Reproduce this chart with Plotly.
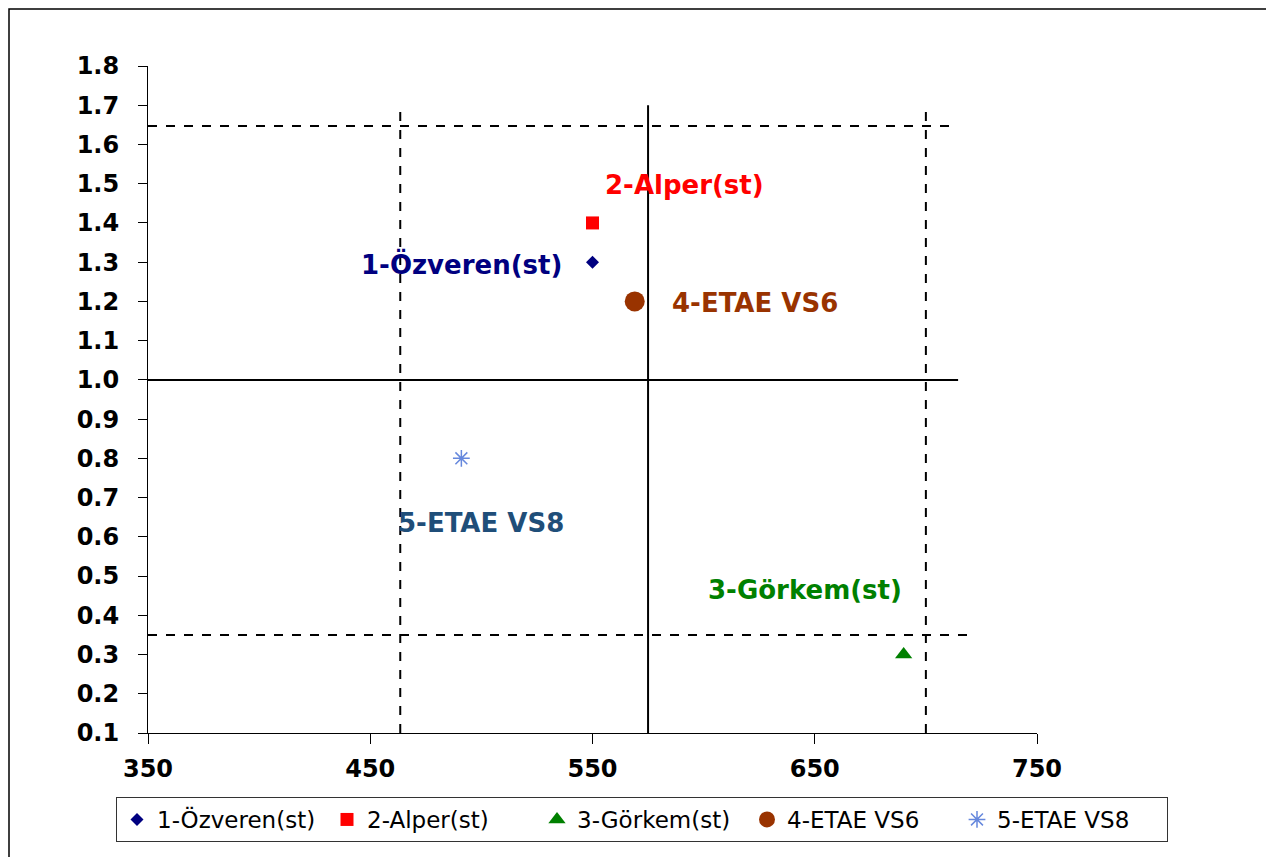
import plotly.graph_objects as go

# ---- data ----
names = ["1-Özveren(st)", "2-Alper(st)", "3-Görkem(st)", "4-ETAE VS6", "5-ETAE VS8"]
x_vals = [550, 550, 690, 569, 491]
y_vals = [1.3, 1.4, 0.3, 1.2, 0.8]

x_ticks = [350, 450, 550, 650, 750]
y_ticks = [0.1, 0.2, 0.3, 0.4, 0.5, 0.6, 0.7, 0.8, 0.9, 1.0, 1.1, 1.2, 1.3, 1.4, 1.5, 1.6, 1.7, 1.8]

# reference lines
vline_x = [463.5, 575, 700]
vline_top = [1.695, 1.70, 1.70]
hline_y = [1.647, 1.0, 0.35]
hline_end = [714, 714.5, 721]
vline_dash = ["dash", "solid", "dash"]
hline_dash = ["dash", "solid", "dash"]

# ---- styles ----
symbols = ["diamond", "square", "triangle-up", "circle", "asterisk-open"]
sizes = [10, 13, 15, 20, 14]
colors = ["#000080", "#FF0000", "#008000", "#993300", "#6688DD"]
label_colors = ["#000080", "#FF0000", "#008000", "#993300", "#1F4E79"]
label_shift = [(-131, -2), (92, 38), (-99, 65), (120, -2), (20, -65)]

# figure geometry (page has an 8px body margin)
W, H = 1266, 849
ML, MT, MR, MB = 140, 58, 237, 124
PW, PH = W - ML - MR, H - MT - MB

fig = go.Figure()

# reference lines
for xv, top, d in zip(vline_x, vline_top, vline_dash):
    fig.add_trace(go.Scatter(x=[xv, xv], y=[0.1, top], mode="lines",
                             line=dict(color="black", width=2, dash=d),
                             showlegend=False, hoverinfo="skip"))
for yv, end, d in zip(hline_y, hline_end, hline_dash):
    fig.add_trace(go.Scatter(x=[350, end], y=[yv, yv], mode="lines",
                             line=dict(color="black", width=2, dash=d),
                             showlegend=False, hoverinfo="skip"))

for n, xv, yv, s, sz, c in zip(names, x_vals, y_vals, symbols, sizes, colors):
    mk = dict(symbol=s, size=sz, color=c)
    if s == "asterisk-open":
        mk["line"] = dict(color=c, width=1.5)
    fig.add_trace(go.Scatter(x=[xv], y=[yv], mode="markers", name=n, marker=mk))

for n, xv, yv, lc, (dx, dy) in zip(names, x_vals, y_vals, label_colors, label_shift):
    fig.add_annotation(x=xv, y=yv, text=n, showarrow=False, xshift=dx, yshift=dy,
                       font=dict(family="DejaVu Sans", size=26, color=lc, weight="bold"))

# outer border
fig.add_shape(type="rect", xref="paper", yref="paper",
              x0=(1 - ML) / PW, x1=(1262 - ML) / PW,
              y0=(H - MB - 880) / PH, y1=(H - MB - 1) / PH,
              line=dict(color="black", width=1.5), fillcolor="rgba(0,0,0,0)", layer="below")

fig.update_layout(
    width=W, height=H,
    margin=dict(l=ML, r=MR, t=MT, b=MB, autoexpand=False),
    paper_bgcolor="white", plot_bgcolor="white",
    font=dict(family="DejaVu Sans", color="black"),
    legend=dict(orientation="h",
                x=(1160 - ML) / PW, xanchor="right",
                y=(H - MB - 789) / PH, yanchor="top",
                bordercolor="#333333", borderwidth=1,
                font=dict(family="DejaVu Sans", size=23, color="black"),
                itemwidth=30, entrywidth=165, entrywidthmode="pixels"),
    xaxis=dict(range=[350, 750], tickvals=x_ticks, showgrid=False, zeroline=False,
               showline=True, linecolor="black", linewidth=1, automargin=False,
               ticks="outside", ticklen=10, tickcolor="black", ticklabelstandoff=4,
               tickfont=dict(family="DejaVu Sans", size=24, weight="bold")),
    yaxis=dict(range=[0.1, 1.8], tickvals=y_ticks, tickformat=".1f", showgrid=False,
               zeroline=False, showline=True, linecolor="black", linewidth=1,
               automargin=False,
               ticks="outside", ticklen=9, tickcolor="black", ticklabelstandoff=14,
               tickfont=dict(family="DejaVu Sans", size=24, weight="bold")),
)

fig.write_html("out.html")
